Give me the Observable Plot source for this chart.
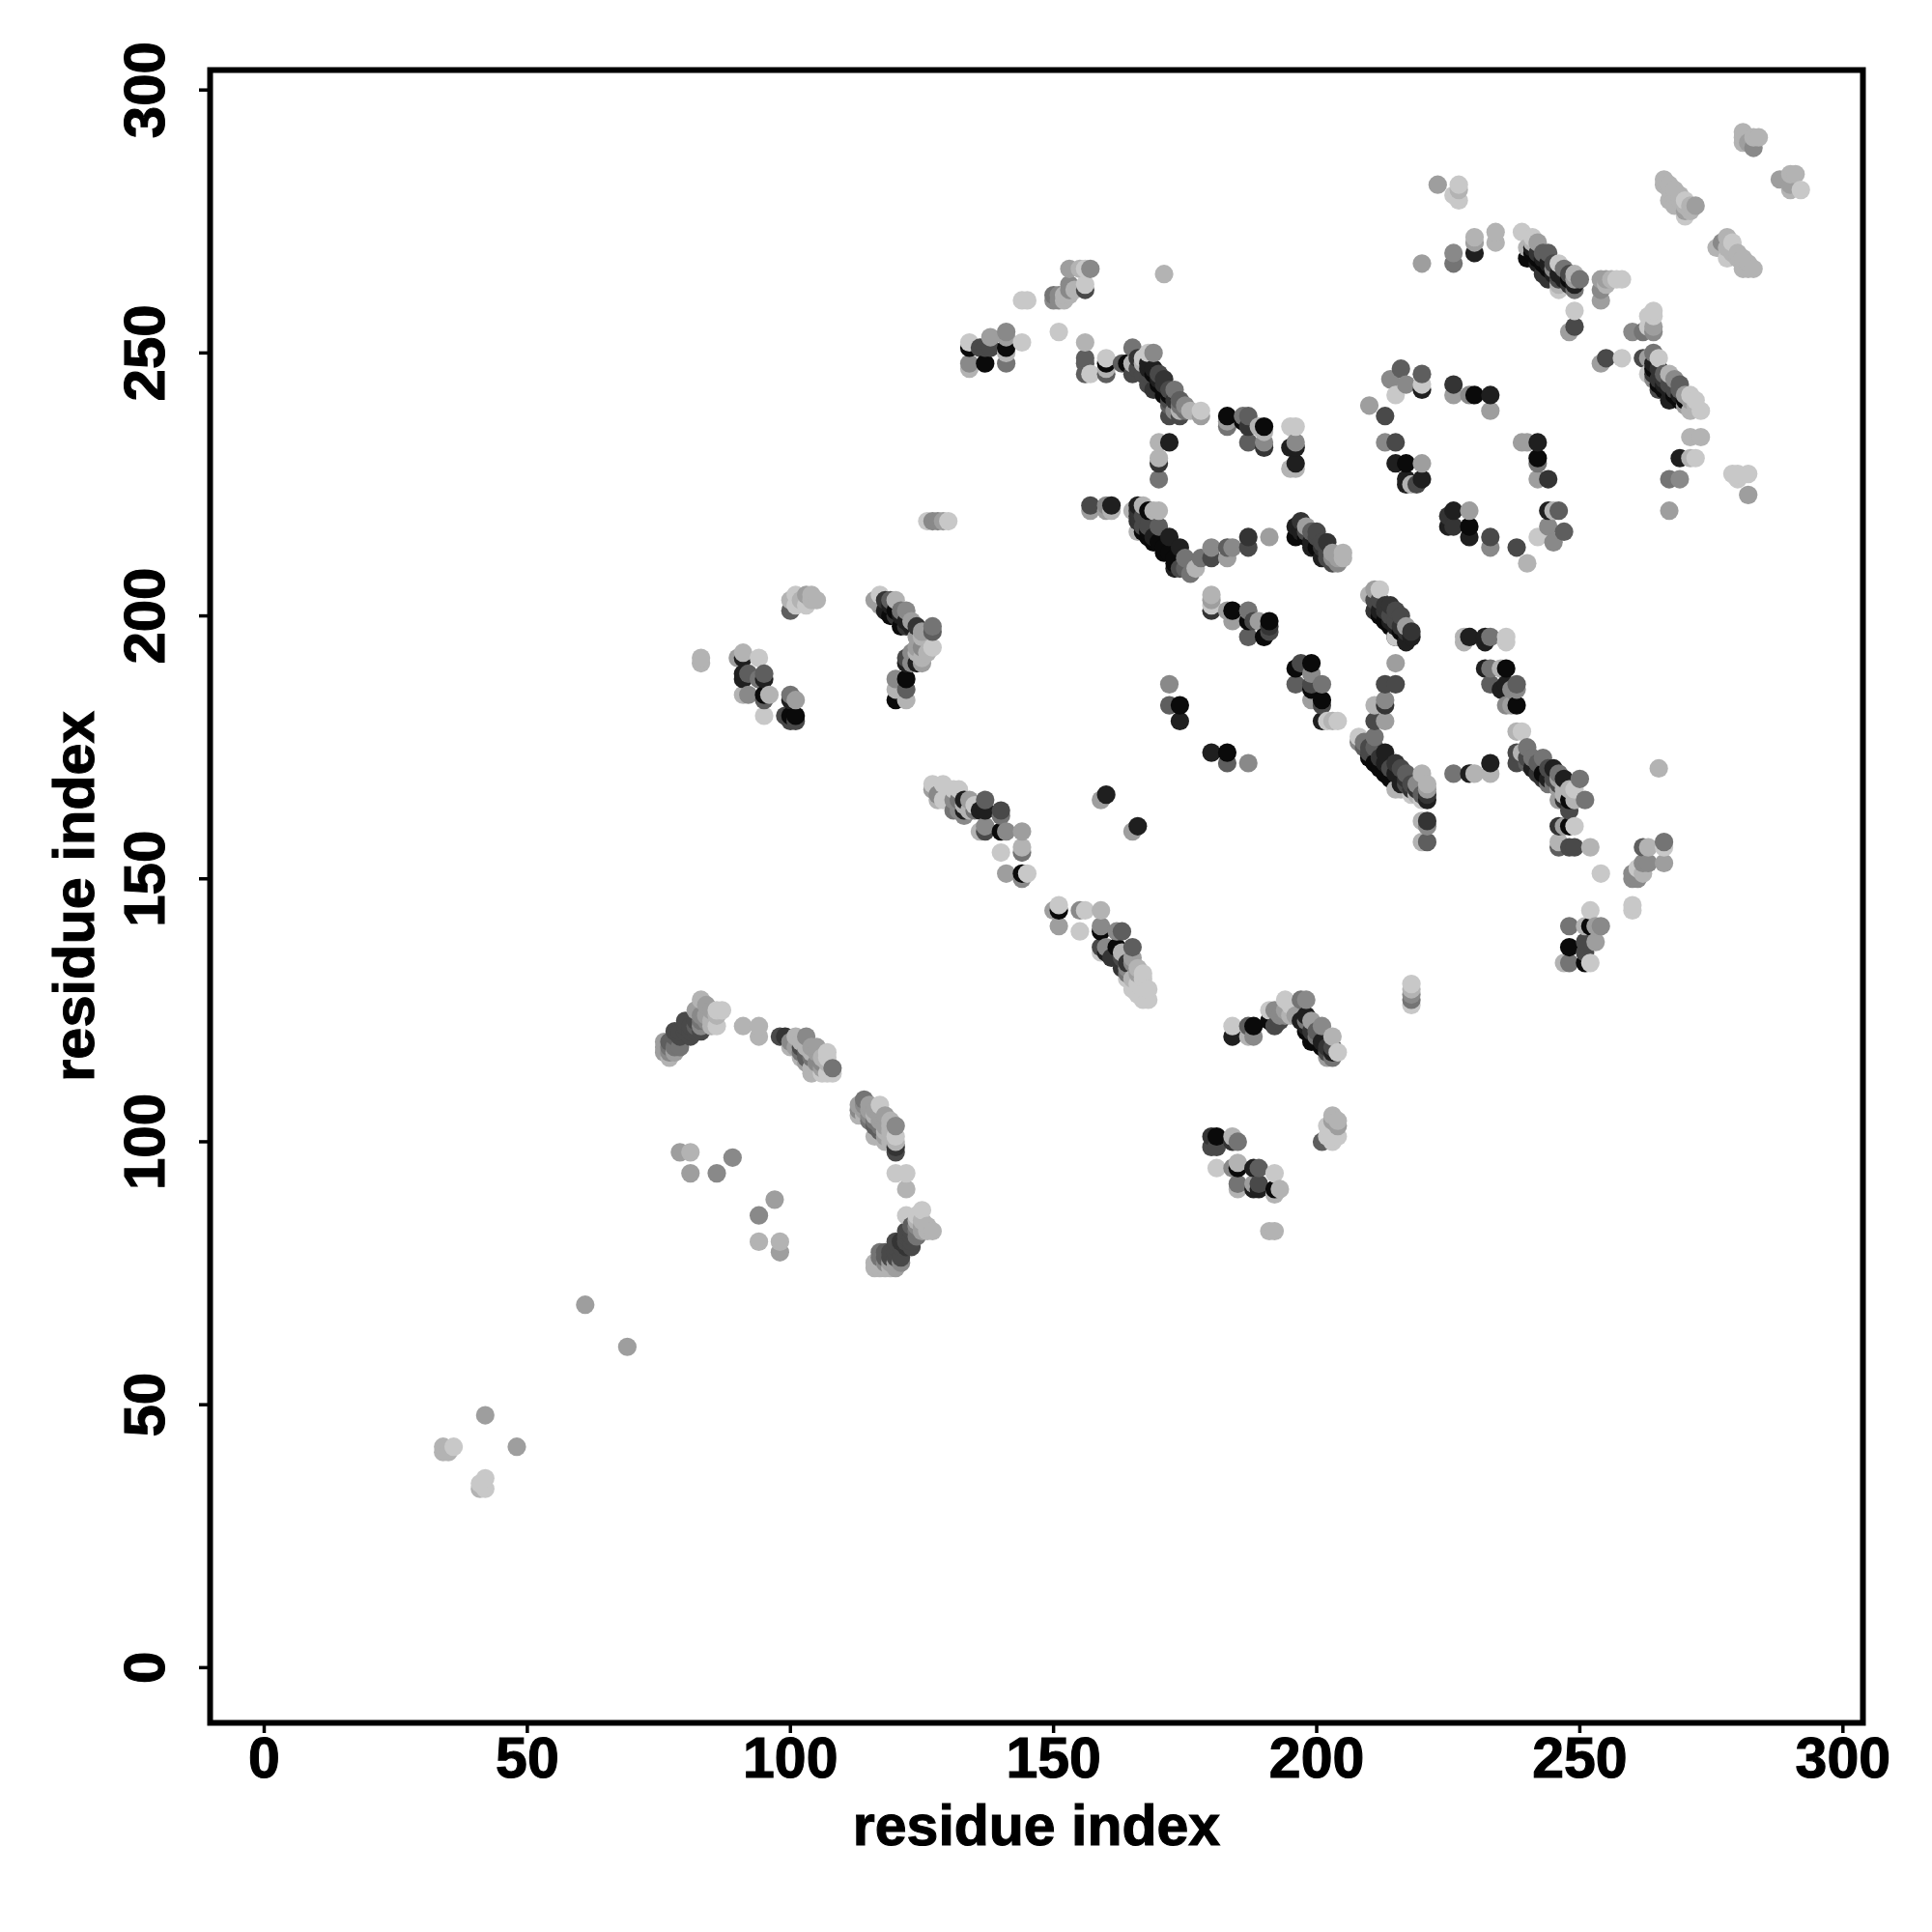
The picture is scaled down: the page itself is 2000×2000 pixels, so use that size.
<!DOCTYPE html>
<html><head><meta charset="utf-8">
<script src="https://cdn.jsdelivr.net/npm/d3@7"></script>
<script src="https://cdn.jsdelivr.net/npm/@observablehq/plot@0.6"></script>
<style>html,body{margin:0;padding:0;background:#fff} svg text{stroke:#000;stroke-width:1.1px}</style>
</head><body><div id="chart"></div>
<script>
// each contact: [residue i, residue j, shade 0 (black) .. 9 (light grey)]
const lowLeft=[[61,69,7],[69,61,7],[42,48,7],[48,42,7],[34,42,8],[34,41,8],[35,41,8],[36,42,9],[42,36,9],[41,35,9],[41,34,8],[42,34,9],[79,98,7],[81,98,8],[81,94,7],[86,94,6],[89,97,6],[97,89,7],[94,86,6],[94,81,8],[98,81,8],[98,79,7]];
const arcA=[[83,127,8],[84,126,7],[82,125,7],[85,125,7],[87,125,9],[86,125,9],[86,122,9],[82,123,3],[83,122,6],[80,123,3],[81,120,3],[78,121,3],[79,121,3],[80,121,3],[79,120,3],[77,119,4],[78,118,5],[76,119,7],[76,117,7],[77,116,8],[79,118,5],[91,122,8],[94,122,8],[94,120,8],[78,120,4],[80,122,3],[81,122,3],[81,121,3],[82,121,3],[82,122,4],[83,123,5],[84,123,6],[84,124,7],[85,123,8],[83,124,6],[85,122,8],[86,124,8],[77,118,5],[77,117,6],[78,117,7],[76,118,7],[83,121,3]];
const arcB=[[98,120,3],[99,120,2],[101,120,8],[103,120,6],[100,118,8],[102,118,3],[104,118,7],[105,118,7],[107,117,9],[102,116,8],[103,116,4],[106,115,6],[108,114,5],[104,113,8],[106,113,9],[107,113,9],[100,119,6],[101,118,7],[102,117,5],[103,118,8],[103,117,4],[104,117,8],[104,116,5],[105,115,6],[105,117,7],[105,114,8],[106,116,8],[106,114,7],[107,115,8],[107,116,9],[103,115,7],[104,114,8],[102,119,8],[108,113,9]];
const arcC=[[114,108,5],[115,107,7],[117,107,9],[113,106,6],[116,106,7],[118,105,7],[113,105,8],[115,104,5],[116,103,4],[120,103,6],[117,102,4],[116,101,8],[118,100,8],[120,101,9],[120,99,2],[120,98,3],[120,94,9],[122,94,9],[122,91,8],[114,107,6],[114,106,7],[114,105,8],[115,105,6],[116,105,8],[116,104,5],[117,105,7],[117,104,7],[117,103,5],[118,103,7],[118,102,8],[118,101,7],[119,104,8],[119,103,8],[119,102,8],[119,101,8],[119,100,8],[115,106,7],[113,107,7],[120,100,8]];
const arcD=[[122,86,9],[125,87,9],[124,86,9],[127,83,8],[125,83,7],[122,83,3],[123,82,3],[123,80,3],[121,81,2],[120,81,3],[119,79,3],[121,78,3],[118,79,4],[117,79,5],[118,77,6],[119,76,8],[117,76,8],[116,77,8],[120,79,3],[120,80,3],[121,80,3],[122,81,3],[122,82,3],[122,80,2],[123,81,3],[123,83,3],[123,84,4],[124,82,5],[124,83,5],[124,84,6],[125,84,7],[125,85,8],[126,84,8],[126,83,8],[124,85,8],[118,78,4],[117,78,5],[119,78,3],[120,78,3],[116,76,8],[118,76,8],[120,76,7],[120,77,7],[119,77,7],[121,77,6]];
const leftPatch=[[83,192,8],[83,191,8],[91,193,8],[90,192,7],[91,192,1],[94,192,9],[91,189,1],[91,188,1],[92,189,4],[94,188,5],[95,189,4],[95,188,1],[91,185,8],[92,185,6],[95,185,0],[96,185,8],[95,184,4],[95,181,9],[100,185,5],[101,184,7],[100,184,1],[99,181,3],[100,181,0],[101,181,0],[101,180,3],[100,180,3],[100,201,4],[100,203,8],[101,204,9],[101,202,9],[103,202,9],[103,204,7],[104,204,8],[104,203,8],[105,203,8],[102,203,8]];
const upperPatch=[[116,203,7],[117,204,9],[117,202,7],[118,203,2],[118,201,1],[119,203,4],[120,203,8],[119,200,0],[121,198,0],[122,201,6],[123,199,7],[122,198,2],[124,198,2],[125,197,7],[127,198,5],[127,197,4],[127,194,9],[125,194,6],[124,194,7],[125,191,7],[124,191,1],[122,192,3],[123,191,6],[122,191,1],[120,188,6],[120,186,8],[122,188,0],[122,186,4],[120,184,0],[122,184,8],[119,202,1],[120,201,0],[120,200,2],[121,200,1],[121,201,5],[122,199,1],[123,198,1],[124,196,7],[125,196,8],[124,193,8],[126,193,8],[125,192,8],[123,193,6]];
const midBand=[[127,168,9],[129,168,9],[127,167,7],[129,165,9],[131,167,9],[132,167,9],[128,166,6],[132,165,5],[133,165,1],[134,165,7],[132,163,6],[133,163,1],[134,163,8],[135,164,9],[137,165,4],[136,163,1],[137,163,1],[140,163,3],[140,162,5],[136,159,8],[137,160,6],[137,159,3],[140,159,0],[141,159,6],[144,159,7],[140,155,9],[144,156,8],[144,155,5],[141,151,7],[144,150,6],[144,151,0],[145,151,9],[151,145,9],[150,144,7],[151,144,0],[151,141,7],[155,144,6],[156,144,9],[159,144,8],[155,140,9],[159,141,6],[159,140,0],[159,137,3],[160,137,6],[159,136,9],[162,140,6],[163,140,4],[162,137,0],[163,136,8],[165,137,4],[165,135,7],[165,134,6],[163,133,2],[164,132,5],[167,132,9],[167,131,9],[165,129,9],[168,129,9],[168,127,9],[167,127,9],[130,166,9],[128,165,8],[133,164,8],[135,163,5],[131,165,6],[131,163,5],[160,136,1],[161,135,2],[163,135,3],[164,134,2],[164,133,6],[165,131,8],[166,130,9],[166,132,7],[166,133,8],[167,129,9],[164,131,9],[166,128,9],[133,162,6]];
const topBand=[[153,266,7],[155,266,8],[156,266,9],[157,266,6],[156,263,9],[156,262,3],[153,263,6],[153,262,6],[150,261,5],[151,261,6],[152,261,8],[150,260,6],[151,260,6],[152,260,8],[153,261,8],[154,262,8],[144,260,9],[145,260,9],[171,265,8],[151,254,9],[134,252,9],[134,251,0],[134,248,6],[134,247,8],[137,248,0],[138,253,7],[137,251,3],[136,251,3],[138,251,3],[141,254,6],[141,253,7],[141,251,0],[141,250,8],[141,248,5],[144,252,9]];
const band250=[[156,252,8],[156,249,4],[156,248,4],[156,246,4],[157,246,9],[160,249,9],[160,248,0],[160,247,8],[160,246,4],[163,248,4],[165,251,5],[169,250,6],[168,250,9],[164,248,0],[165,248,8],[165,246,3],[169,247,1],[168,247,1],[171,245,2],[168,244,3],[169,243,2],[173,243,5],[172,241,3],[175,240,6],[178,239,9],[178,238,7],[172,238,3],[174,238,3],[174,239,8],[170,246,3],[171,243,0],[172,242,0],[170,233,8],[172,233,1],[170,230,8],[170,229,2],[170,226,5],[183,238,0],[183,237,7],[183,236,5],[187,238,4],[186,238,5],[186,237,0],[187,236,2],[190,236,0],[189,236,8],[190,235,8],[187,233,4],[190,233,6],[190,232,2],[195,236,9],[196,236,9],[196,233,6],[195,232,1],[196,232,1],[196,229,1],[195,228,8],[196,228,8],[166,249,2],[167,248,8],[167,249,9],[168,248,1],[169,246,0],[170,245,1],[170,244,0],[171,244,2],[171,242,0],[172,243,3],[172,240,4],[173,241,2],[173,239,6],[174,241,4],[175,239,5],[176,239,8],[174,240,5],[166,247,3],[167,246,3],[168,246,3]];
const band220=[[126,218,9],[127,218,6],[128,218,6],[129,218,7],[130,218,9],[157,221,3],[157,220,7],[160,221,6],[161,221,1],[161,220,8],[160,220,7],[166,221,1],[167,221,8],[168,220,0],[169,220,8],[170,220,8],[165,220,8],[166,218,2],[167,217,3],[168,217,3],[170,217,4],[168,216,0],[172,215,1],[169,214,0],[174,213,1],[171,212,0],[173,210,0],[175,211,5],[178,211,5],[177,209,8],[176,208,5],[166,216,8],[180,213,6],[180,211,3],[183,213,4],[184,213,6],[183,211,7],[187,215,2],[187,213,3],[191,215,7],[197,218,2],[196,217,1],[198,217,7],[200,216,3],[196,215,0],[202,214,2],[199,213,1],[201,211,1],[203,212,7],[205,212,8],[204,210,6],[167,216,0],[168,215,0],[169,215,1],[170,214,0],[171,213,0],[172,212,0],[173,211,0],[173,209,1],[174,209,3],[175,209,4],[167,219,3],[166,220,2],[166,219,2],[197,216,1],[198,215,0],[199,214,1],[200,213,0],[201,213,2],[202,211,3],[203,210,3],[198,216,3],[199,216,4],[200,215,3],[201,214,3],[202,212,3],[204,211,7],[205,211,8],[203,211,6]];
const band200=[[180,204,8],[180,203,7],[180,202,9],[180,201,2],[184,201,0],[183,201,7],[184,199,7],[187,201,5],[188,199,3],[187,199,0],[191,199,0],[191,198,2],[191,197,3],[190,196,0],[187,196,4],[189,199,7],[199,191,0],[196,190,0],[197,191,3],[199,189,6],[196,187,4],[199,187,3],[201,187,5],[199,186,0],[199,184,7],[201,184,0],[201,183,3],[201,180,1],[202,180,9],[203,180,8],[204,180,9],[172,187,6],[172,183,4],[174,183,0],[174,180,1],[180,174,1],[183,174,0],[183,172,4],[187,172,6],[160,166,1],[159,165,7],[166,160,1],[165,159,7]];
const band170=[[215,191,7],[213,187,3],[215,187,3],[213,184,6],[211,183,8],[213,183,2],[211,180,3],[213,180,7],[211,177,5],[208,177,9],[209,176,5],[211,175,4],[208,176,6],[213,174,1],[215,172,2],[210,173,0],[212,171,0],[214,169,0],[217,170,4],[215,167,8],[220,170,8],[221,167,7],[220,165,9],[221,165,1],[220,161,8],[221,161,2],[221,160,6],[220,157,8],[221,157,4],[219,168,6],[218,167,2],[217,168,3],[209,175,4],[210,175,3],[210,174,3],[211,172,0],[212,173,2],[213,172,1],[213,170,0],[214,171,3],[215,170,1],[216,171,3],[216,168,1],[217,169,2],[218,168,3],[219,167,2],[219,166,8],[220,166,4],[216,167,8],[218,166,9],[221,166,2],[221,168,8]];
const band200b=[[212,205,9],[211,205,7],[210,204,8],[213,202,2],[214,202,2],[216,200,3],[211,203,3],[211,201,2],[213,199,0],[215,196,0],[217,198,7],[218,197,2],[215,196,9],[217,195,1],[212,203,3],[212,201,1],[212,200,0],[213,201,2],[214,199,1],[214,198,0],[215,198,1],[216,197,0],[216,198,2],[217,197,2],[214,200,3],[215,201,3],[215,199,3],[218,196,1],[228,196,8],[228,195,8],[229,196,1],[232,196,1],[232,195,1],[233,196,5],[236,196,9],[236,195,9],[232,190,1],[233,190,5],[235,190,8],[236,190,0],[233,187,4],[236,187,1],[238,187,4],[238,186,6],[235,186,1],[237,186,6],[236,183,6],[237,183,7],[238,183,0],[238,178,8],[239,178,9],[240,175,5],[238,174,3],[239,174,8],[238,172,3],[241,173,5],[243,173,5],[240,172,4],[242,170,2],[245,171,1],[244,171,3],[247,169,1],[250,169,5],[244,168,5],[246,169,7],[247,167,8],[248,167,8],[251,165,5],[248,165,0],[248,163,3],[246,165,7],[246,160,2],[247,160,7],[248,160,0],[249,160,9],[246,157,8],[246,156,4],[248,156,3],[249,156,3],[252,156,8],[226,170,5],[229,170,1],[230,170,8],[233,170,8],[233,172,1],[240,173,3],[241,171,1],[242,172,4],[243,170,0],[243,169,2],[244,169,1],[245,169,3],[245,168,5],[246,168,3],[246,167,7],[247,166,8],[247,165,2],[246,170,5],[249,167,9],[249,165,8]];
const rightLow=[[265,171,8],[262,156,4],[263,156,8],[266,157,5],[266,156,9],[266,153,7],[262,153,6],[263,153,6],[261,152,9],[262,151,8],[260,151,6],[260,150,6],[261,150,6],[254,151,9],[252,144,9],[260,145,9],[260,144,9],[248,141,5],[251,141,8],[252,141,0],[253,141,7],[254,141,6],[248,137,0],[251,138,3],[253,138,7],[251,136,3],[247,134,8],[248,134,5],[251,134,0],[252,134,9],[218,130,9],[218,129,8],[218,128,6],[218,127,5],[218,126,9]];
const lowMid=[[184,122,9],[184,120,1],[187,122,4],[188,122,0],[187,120,8],[188,120,6],[191,125,9],[192,125,6],[191,123,0],[192,122,3],[194,127,9],[194,125,7],[194,124,6],[197,127,5],[198,127,6],[196,124,7],[198,124,1],[199,123,7],[197,123,1],[201,122,6],[200,121,4],[198,121,0],[199,119,0],[203,120,8],[202,117,3],[204,117,9],[203,116,5],[199,121,2],[200,119,0],[200,120,5],[201,119,1],[201,118,0],[202,118,2],[202,116,7],[203,118,3],[203,117,1],[198,122,1],[198,123,5],[195,126,9],[195,124,8],[193,123,3],[193,124,6],[181,101,0],[180,101,2],[180,99,3],[181,99,3],[184,101,8],[185,100,5],[184,100,2],[181,95,9],[184,95,6],[185,96,8],[185,95,0],[188,95,1],[189,95,4],[192,94,9],[185,92,5],[185,91,8],[188,92,7],[189,92,3],[188,91,1],[189,91,1],[192,91,0],[193,91,8],[192,90,8],[191,83,8],[192,83,8],[201,100,4],[202,103,9],[203,105,8],[204,104,8],[203,104,7],[204,103,7],[204,101,9],[203,100,9],[202,101,9]];
const ring=[[216,247,4],[214,245,6],[215,242,9],[217,244,6],[220,246,4],[220,244,9],[220,243,1],[210,240,7],[213,238,3],[213,233,6],[215,233,3],[215,229,1],[217,229,0],[220,229,7],[217,226,1],[217,225,1],[218,225,8],[219,225,3],[220,226,1],[226,244,2],[226,242,7],[229,242,6],[230,242,0],[233,242,1],[233,239,7],[239,233,7],[240,233,7],[242,233,1],[242,230,0],[242,229,5],[242,226,7],[244,226,2],[226,220,1],[229,220,7],[225,219,2],[225,217,1],[226,217,2],[229,217,0],[229,215,1],[233,215,3],[233,213,6],[238,213,3],[240,210,8],[242,215,9],[244,217,6],[247,216,4],[245,214,6],[244,220,1],[245,220,8],[246,220,4]];
const topRight=[[281,292,8],[281,291,8],[281,290,8],[283,289,6],[284,291,8],[283,291,8],[282,290,7],[288,283,7],[290,284,8],[291,284,8],[290,282,7],[292,281,9],[290,281,8],[266,283,8],[266,282,8],[267,281,8],[268,280,8],[267,279,8],[269,279,8],[268,278,8],[270,279,9],[272,278,7],[271,278,8],[270,276,9],[270,277,7],[267,282,8],[268,281,8],[269,280,8],[270,278,8],[271,277,8],[278,272,8],[276,270,8],[277,271,6],[279,271,9],[278,268,9],[280,269,8],[280,268,8],[282,267,8],[281,266,8],[283,266,8],[278,270,8],[279,269,8],[281,268,8],[282,266,8],[223,282,7],[227,282,9],[226,280,9],[227,279,9],[227,281,8],[220,267,7],[226,269,6],[226,267,5],[230,272,8],[230,271,7],[230,269,1],[234,273,8],[234,271,8]];
const band265=[[239,273,9],[241,272,9],[242,271,7],[240,270,8],[243,269,4],[244,269,4],[240,268,0],[242,267,1],[246,267,9],[243,265,2],[246,265,1],[246,264,3],[246,263,8],[245,266,6],[249,265,8],[250,264,5],[249,263,1],[249,262,5],[241,270,1],[241,269,0],[242,269,2],[242,268,0],[243,268,1],[243,267,0],[244,267,1],[244,266,0],[245,265,1],[245,267,3],[241,271,8],[244,264,2],[247,266,5],[247,264,1],[248,265,3],[248,263,2],[248,264,0],[246,262,9],[249,264,7],[254,264,7],[255,264,7],[256,264,8],[257,264,9],[258,264,9],[254,262,6],[254,260,7],[255,263,8],[249,258,9],[249,255,3],[248,254,7],[264,258,9],[263,257,9],[264,257,9],[264,255,7],[260,254,6],[262,254,5],[264,254,6],[263,255,9],[255,249,3],[254,248,7],[258,249,9],[262,249,3],[263,249,7],[264,250,5],[265,249,9],[263,246,9],[264,246,2],[267,246,8],[265,245,2],[265,243,3],[266,244,1],[269,244,4],[267,241,1],[270,242,7],[271,242,9],[272,241,9],[273,239,9],[271,239,8],[269,241,0],[264,248,1],[264,247,0],[265,247,2],[265,244,0],[266,245,2],[266,243,0],[267,243,1],[267,244,3],[268,242,0],[268,243,3],[269,243,4],[268,245,6],[269,242,1],[270,241,0],[270,240,7],[271,241,7],[272,240,8],[266,246,4],[264,245,6],[271,234,8],[273,234,8],[269,230,1],[271,230,8],[272,230,9],[267,226,5],[269,226,6],[267,220,7],[279,227,9],[280,227,9],[280,226,9],[282,227,9],[282,223,7]];

const contacts = [lowLeft,arcA,arcB,arcC,arcD,leftPatch,upperPatch,midBand,topBand,band250,band220,band200,band170,band200b,rightLow,lowMid,ring,topRight,band265]
  .flat().map(([i,j,shade])=>({i,j,shade}))
  .sort((a,b)=>a.i-b.i||a.j-b.j);
const tickValues=[0,50,100,150,200,250,300];
const axisLabel="residue index";
const font='"Liberation Sans", Arial, sans-serif';

const chart = Plot.plot({
  width:2000,height:2000,
  marginLeft:217,marginRight:72,marginTop:72,marginBottom:217,
  style:{fontFamily:font,background:"#fff"},
  x:{domain:[-10.28,303.8]},
  y:{domain:[-10.5,303.8]},
  color:{type:"linear",domain:[0,9],range:["#0a0a0a","#c8c8c8"]},
  marks:[
    Plot.dot(contacts,{x:"i",y:"j",r:9.6,fill:"shade",stroke:"none"}),
    Plot.frame({stroke:"#000",strokeWidth:6}),
    Plot.axisX({ticks:tickValues,tickSize:11,tickPadding:4,strokeWidth:3.5,fontSize:59,fontWeight:"bold",
      label:axisLabel,labelAnchor:"center",labelArrow:"none",labelOffset:126,tickFormat:d=>String(d)}),
    Plot.axisY({ticks:tickValues,tickSize:11,text:null,strokeWidth:3.5,label:null}),
    Plot.text(tickValues,{x:()=>-10.28,y:d=>d,text:d=>String(d),rotate:-90,dx:-48,fontSize:60,fontWeight:"bold",lineAnchor:"bottom",textAnchor:"middle",fill:"#000"}),
    Plot.text([axisLabel],{frameAnchor:"left",text:d=>d,rotate:-90,dx:-121,fontSize:59.5,fontWeight:"bold",lineAnchor:"bottom",textAnchor:"middle",fill:"#000"})
  ]
});
document.getElementById("chart").appendChild(chart);
</script></body></html>
